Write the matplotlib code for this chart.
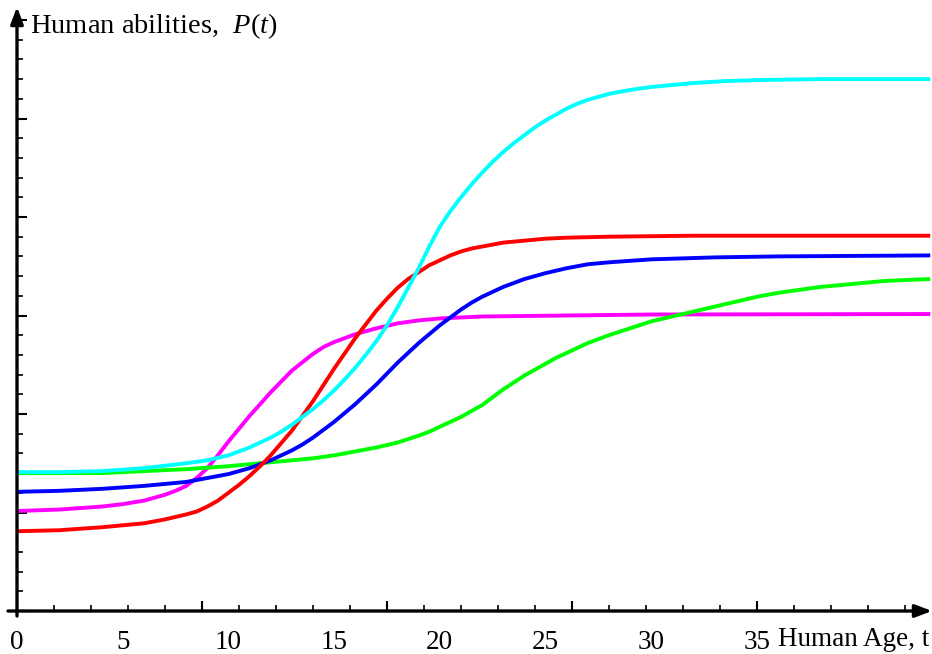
import matplotlib
matplotlib.use('Agg')
import matplotlib.pyplot as plt
import numpy as np

plt.rcParams['font.family'] = ['Liberation Serif', 'DejaVu Serif']
plt.rcParams['mathtext.fontset'] = 'custom'
plt.rcParams['mathtext.rm'] = 'Liberation Serif'
plt.rcParams['mathtext.it'] = 'Liberation Serif:italic'

# ---------------- data (age t, ability P) ----------------
red_t = [0, 2, 4, 5, 6, 7, 8, 8.5, 9, 9.5, 10, 10.5, 11, 11.5, 12, 13, 14, 15, 16, 17, 17.5, 18,
         18.5, 19, 19.5, 20, 20.5, 21, 21.5, 22, 23, 24, 25, 26, 28, 32, 43.2]
red_p = [0.81, 0.82, 0.85, 0.87, 0.89, 0.93, 0.98, 1.01, 1.06, 1.12, 1.20, 1.28, 1.37, 1.47, 1.58,
         1.83, 2.13, 2.46, 2.77, 3.05, 3.17, 3.28, 3.37, 3.44, 3.51, 3.56, 3.61, 3.65, 3.68, 3.70,
         3.74, 3.76, 3.78, 3.79, 3.80, 3.81, 3.81]

magenta_t = [0, 2, 4, 5, 6, 7, 7.5, 8, 8.5, 9, 9.5, 10, 10.5, 11, 12, 13, 14, 14.5, 15, 15.5, 16,
             16.5, 17, 18, 19, 20, 22, 26, 30, 43.2]
magenta_p = [1.015, 1.03, 1.06, 1.085, 1.12, 1.18, 1.22, 1.27, 1.35, 1.45, 1.58, 1.72, 1.85, 1.98,
             2.22, 2.44, 2.61, 2.68, 2.73, 2.77, 2.81, 2.84, 2.87, 2.92, 2.95, 2.97, 2.99, 3.00,
             3.01, 3.015]

cyan_t = [0, 2, 4, 6, 8, 9, 10, 10.5, 11, 11.5, 12, 12.5, 13, 13.5, 14, 14.5, 15, 15.5, 16, 16.5,
          17, 17.5, 18, 18.5, 19, 19.5, 20, 20.5, 21, 21.5, 22, 22.5, 23, 23.5, 24, 24.5, 25, 25.5,
          26, 26.5, 27, 28, 29, 30, 32, 33.5, 35, 38, 43.2]
cyan_p = [1.41, 1.41, 1.42, 1.45, 1.50, 1.53, 1.58, 1.62, 1.66, 1.71, 1.76, 1.82, 1.89, 1.97, 2.05,
          2.14, 2.24, 2.35, 2.47, 2.60, 2.74, 2.90, 3.08, 3.28, 3.48, 3.70, 3.90, 4.06, 4.20, 4.33,
          4.45, 4.56, 4.66, 4.75, 4.83, 4.91, 4.98, 5.04, 5.10, 5.15, 5.19, 5.25, 5.29, 5.32, 5.36,
          5.38, 5.39, 5.40, 5.40]

blue_t = [0, 2, 4, 6, 8, 9, 10, 11, 12, 12.5, 13, 13.5, 14, 14.5, 15, 15.5, 16, 16.5, 17, 17.5, 18,
          18.5, 19, 19.5, 20, 20.5, 21, 21.5, 22, 22.5, 23, 24, 25, 26, 27, 28, 30, 33, 36, 43.2]
blue_p = [1.21, 1.22, 1.24, 1.27, 1.31, 1.35, 1.39, 1.45, 1.53, 1.58, 1.63, 1.69, 1.76, 1.84, 1.92,
          2.01, 2.10, 2.20, 2.30, 2.41, 2.52, 2.62, 2.72, 2.81, 2.90, 2.98, 3.06, 3.13, 3.19, 3.24,
          3.29, 3.37, 3.43, 3.48, 3.52, 3.54, 3.57, 3.59, 3.60, 3.61]

green_t = [0, 4, 8, 10, 12, 14, 15, 16, 17, 18, 18.5, 19, 19.5, 20, 20.5, 21, 21.5, 22, 22.5, 23,
           23.5, 24, 24.5, 25, 25.5, 26, 26.5, 27, 28, 29, 30, 31, 32, 33, 34, 35, 36, 37, 38, 39,
           40, 41, 42, 43.2]
green_p = [1.40, 1.40, 1.44, 1.47, 1.51, 1.55, 1.58, 1.62, 1.66, 1.71, 1.745, 1.78, 1.82, 1.87,
           1.92, 1.97, 2.03, 2.09, 2.17, 2.25, 2.32, 2.39, 2.45, 2.51, 2.57, 2.62, 2.67, 2.72, 2.80,
           2.87, 2.94, 2.99, 3.04, 3.09, 3.14, 3.19, 3.23, 3.26, 3.29, 3.31, 3.33, 3.35, 3.36, 3.37]

x_tick_labels = ['0', '5', '10', '15', '20', '25', '30', '35']
x_label_pos = [0, 5, 10, 15, 20, 25, 30, 35]
x_label = 'Human Age, t'
y_label = r'Human abilities,  $P(t)$'

# ---------------- layout ----------------
W, H = 932, 654
fig = plt.figure(figsize=(W / 100, H / 100), dpi=100)
x0px, y0px = 17, 611
ppu_x, ppu_y = 21.14, 98.5
top_px = 7
xmax = (W - x0px) / ppu_x
ymax = (y0px - top_px) / ppu_y
ax = fig.add_axes([x0px / W, (H - y0px) / H, (W - x0px) / W, (y0px - top_px) / H])
ax.set_xlim(0, xmax)
ax.set_ylim(0, ymax)
for s in ax.spines.values():
    s.set_visible(False)

lw = 2.8
kw = dict(lw=lw, solid_capstyle='butt', solid_joinstyle='round', zorder=3)
ax.plot(magenta_t, magenta_p, color='#FF00FF', **kw)
ax.plot(green_t, green_p, color='#00FF00', **kw)
ax.plot(blue_t, blue_p, color='#0000FF', **kw)
ax.plot(red_t, red_p, color='#FF0000', **kw)
ax.plot(cyan_t, cyan_p, color='#00FFFF', **kw)

# axes with arrows
ap = dict(arrowstyle='-|>,head_length=1.0,head_width=0.38', lw=2.4, color='black',
          shrinkA=0, shrinkB=0, mutation_scale=10)
ax.annotate('', xy=(xmax, 0), xytext=(-9 / ppu_x, 0), arrowprops=ap, annotation_clip=False, zorder=5)
ax.annotate('', xy=(0, ymax), xytext=(0, -5 / ppu_y), arrowprops=ap, annotation_clip=False, zorder=5)

# ticks
ax.set_xticks(np.arange(0, 43, 8.75))
ax.set_xticks(np.arange(0, 43, 1.75), minor=True)
ax.set_yticks(np.arange(0, 6.01, 1.0))
ax.set_yticks(np.arange(0, 5.81, 0.2), minor=True)
ax.tick_params(which='both', direction='in', labelbottom=False, labelleft=False, color='black')
ax.tick_params(which='major', length=7, width=1.5)
ax.tick_params(which='minor', length=4, width=1.2)

sec = ax.secondary_xaxis('bottom')
sec.set_xticks(x_label_pos, labels=x_tick_labels)
sec.tick_params(length=0, pad=13.5, labelsize=19.5)
for s in sec.spines.values():
    s.set_visible(False)

fig.text(778 / W, 1 - 646 / H, x_label, ha='left', va='baseline', fontsize=19.5)
fig.text(30 / W, 1 - 33 / H, y_label, ha='left', va='baseline', fontsize=20.5)

fig.savefig('out.png', dpi=100)
